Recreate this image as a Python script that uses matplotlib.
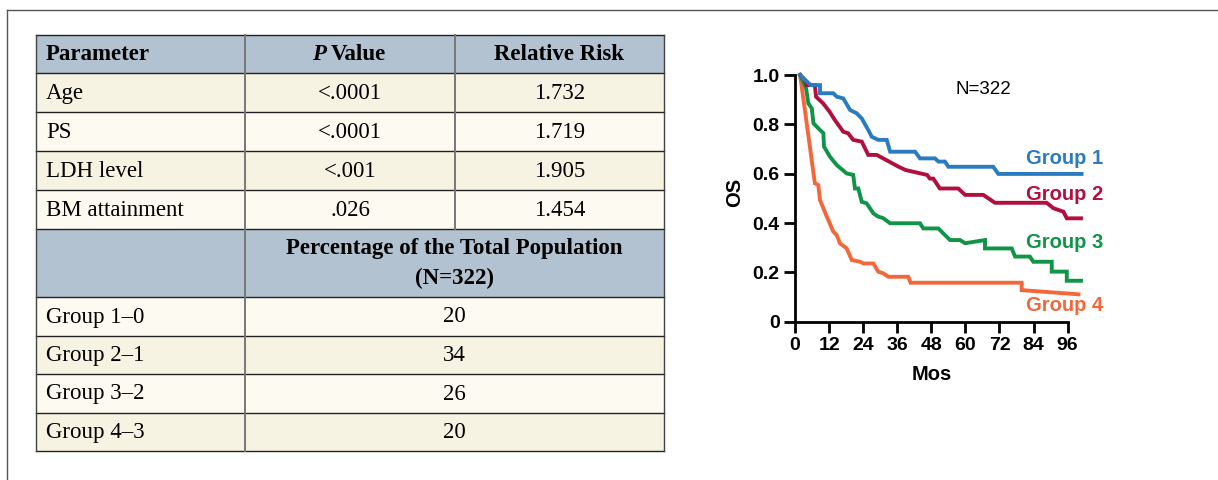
import matplotlib
matplotlib.use("Agg")
import matplotlib.pyplot as plt
from matplotlib.patches import Rectangle
from matplotlib.transforms import blended_transform_factory

# ---------------- Data ----------------
params = ["Age", "PS", "LDH level", "BM attainment"]
p_values = ["<.0001", "<.0001", "<.001", ".026"]
relative_risk = ["1.732", "1.719", "1.905", "1.454"]
group_rows = ["Group 1\u20130", "Group 2\u20131", "Group 3\u20132", "Group 4\u20133"]
percentages = ["20", "34", "26", "20"]

g1_months = [1.8, 4.5, 5.5, 8.8, 8.8, 13.5, 14.7, 17.0, 19.4, 21.7, 23.5, 25.8, 27.0, 29.3, 32.3, 33.5,
             42.3, 44.0, 49.3, 50.5, 52.8, 54.0, 69.8, 71.6, 100.9]
g1_os = [1.0, 0.97, 0.959, 0.959, 0.926, 0.926, 0.912, 0.905, 0.858, 0.845, 0.824, 0.777, 0.75, 0.737, 0.737,
         0.689, 0.689, 0.662, 0.662, 0.649, 0.649, 0.628, 0.628, 0.599, 0.599]

g2_months = [1.8, 3.5, 4.1, 7.0, 7.4, 9.9, 12.2, 14.0, 17.0, 18.7, 20.5, 23.5, 25.8, 28.8, 36.5, 38.9,
             46.5, 47.5, 48.7, 51.0, 57.5, 59.9, 66.3, 70.4, 88.6, 91.0, 94.5, 95.7, 100.7]
g2_os = [1.0, 0.98, 0.959, 0.959, 0.912, 0.885, 0.851, 0.818, 0.77, 0.764, 0.737, 0.73, 0.676, 0.676, 0.628,
         0.615, 0.595, 0.58, 0.58, 0.54, 0.54, 0.514, 0.514, 0.482, 0.482, 0.46, 0.446, 0.419, 0.419]

g3_months = [1.8, 3.9, 4.7, 5.9, 6.5, 8.2, 10.0, 10.2, 12.3, 14.7, 18.2, 20.5, 21.1, 22.3, 23.5, 25.2,
             27.6, 29.3, 31.0, 33.5, 44.0, 45.2, 50.5, 52.2, 54.6, 58.1, 59.9, 66.9, 66.9, 76.3, 77.5,
             82.7, 83.9, 90.4, 90.4, 95.7, 95.7, 100.7]
g3_os = [1.0, 0.946, 0.885, 0.865, 0.804, 0.784, 0.764, 0.71, 0.669, 0.635, 0.601, 0.595, 0.54, 0.54, 0.486,
         0.48, 0.439, 0.426, 0.42, 0.399, 0.399, 0.378, 0.378, 0.358, 0.331, 0.331, 0.318, 0.331, 0.297,
         0.297, 0.264, 0.264, 0.243, 0.243, 0.203, 0.203, 0.166, 0.166]

g4_months = [1.8, 7.0, 8.2, 8.8, 11.2, 13.5, 14.7, 15.8, 18.2, 20.0, 22.9, 24.1, 27.6, 29.3, 31.1, 32.9,
             39.9, 40.7, 79.8, 79.8, 99.8]
g4_os = [1.0, 0.561, 0.554, 0.493, 0.426, 0.365, 0.351, 0.318, 0.297, 0.25, 0.243, 0.236, 0.236, 0.203,
         0.196, 0.182, 0.182, 0.158, 0.158, 0.128, 0.111]

group_names = ["Group 1", "Group 2", "Group 3", "Group 4"]
group_colors = ["#2b7bc0", "#b1103e", "#109447", "#f4673a"]
label_y = [0.663, 0.516, 0.321, 0.066]
x_ticks = [0, 12, 24, 36, 48, 60, 72, 84, 96]
y_ticks = [0, 0.2, 0.4, 0.6, 0.8, 1.0]
y_ticklabels = ["0", "0.2", "0.4", "0.6", "0.8", "1.0"]

# ---------------- Figure ----------------
W, H = 1218, 480
fig = plt.figure(figsize=(W / 100, H / 100), dpi=100)
fig.patch.set_facecolor("white")

bg = fig.add_axes([0, 0, 1, 1])
bg.set_xlim(0, W)
bg.set_ylim(H, 0)
bg.axis("off")

# outer frame
bg.plot([7, 7], [480, 9.5], color="#555555", lw=1.0)
bg.plot([7, 1218], [9.5, 9.5], color="#555555", lw=1.0)

header_c = "#b3c2d0"
cream = "#f7f3e2"
light = "#fdfaf2"
serif = "Liberation Serif"
fs = 16.5

x0, xc1, xc2, x1 = 36, 245, 455, 664
row_edges = [34.5, 72.7, 111.7, 150.7, 189.5, 228.5, 296.5, 335.5, 373.5, 412.5, 451]

# header
bg.add_patch(Rectangle((x0, row_edges[0]), x1 - x0, row_edges[1] - row_edges[0], fc=header_c, ec="none"))
ym = (row_edges[0] + row_edges[1]) / 2 + 1
bg.text(x0 + 10, ym, "Parameter", fontfamily=serif, fontweight="bold", fontsize=fs, va="center", ha="left")
bg.text((xc1 + xc2) / 2 - 24, ym, "P", fontfamily=serif, fontweight="bold",
        fontstyle="italic", fontsize=fs, va="center", ha="right")
bg.text((xc1 + xc2) / 2 - 19, ym, "Value", fontfamily=serif, fontweight="bold", fontsize=fs,
        va="center", ha="left")
bg.text((xc2 + x1) / 2, ym, "Relative Risk", fontfamily=serif, fontweight="bold", fontsize=fs,
        va="center", ha="center")

for i, (p, pv, rr) in enumerate(zip(params, p_values, relative_risk)):
    top, bot = row_edges[1 + i], row_edges[2 + i]
    bg.add_patch(Rectangle((x0, top), x1 - x0, bot - top, fc=cream if i % 2 == 0 else light, ec="none"))
    ym = (top + bot) / 2 + 1
    bg.text(x0 + 10, ym, p, fontfamily=serif, fontsize=fs, va="center", ha="left")
    bg.text((xc1 + xc2) / 2, ym, pv, fontfamily=serif, fontsize=fs, va="center", ha="center")
    bg.text((xc2 + x1) / 2, ym, rr, fontfamily=serif, fontsize=fs, va="center", ha="center")

# second header
top, bot = row_edges[5], row_edges[6]
bg.add_patch(Rectangle((x0, top), x1 - x0, bot - top, fc=header_c, ec="none"))
bg.text((xc1 + x1) / 2, (top + bot) / 2 + 1, "Percentage of the Total Population\n(N=322)", fontfamily=serif,
        fontweight="bold", fontsize=fs, va="center", ha="center", linespacing=1.5)

for i, (g, pc) in enumerate(zip(group_rows, percentages)):
    top, bot = row_edges[6 + i], row_edges[7 + i]
    bg.add_patch(Rectangle((x0, top), x1 - x0, bot - top, fc=light if i % 2 == 0 else cream, ec="none"))
    ym = (top + bot) / 2 + 1
    bg.text(x0 + 10, ym, g, fontfamily=serif, fontsize=fs, va="center", ha="left")
    bg.text((xc1 + x1) / 2, ym, pc, fontfamily=serif, fontsize=fs, va="center", ha="center")

# grid lines
for k, y in enumerate(row_edges):
    bg.plot([x0, x1], [y, y], color="#222222", lw=1.0)
bg.plot([x0, x0], [row_edges[0], row_edges[-1]], color="#444444", lw=1.0)
bg.plot([x1, x1], [row_edges[0], row_edges[-1]], color="#444444", lw=1.0)
bg.plot([xc1, xc1], [row_edges[0], row_edges[-1]], color="#777777", lw=1.4)
bg.plot([xc2, xc2], [row_edges[0], row_edges[5]], color="#777777", lw=1.4)

# ---------------- KM chart ----------------
px_per_mo = 2.84
px_per_os = 246.7
ax_left_px, ax_bottom_px = 795, 321.7
xmax, ymax = 103, 1.05
ax = fig.add_axes([ax_left_px / W, (H - ax_bottom_px) / H,
                   xmax * px_per_mo / W, ymax * px_per_os / H])
ax.set_xlim(0, xmax)
ax.set_ylim(0, ymax)
ax.patch.set_alpha(0)

series = [(g1_months, g1_os), (g2_months, g2_os), (g3_months, g3_os), (g4_months, g4_os)]
for (mx, oy), c in reversed(list(zip(series, group_colors))):
    ax.plot(mx, oy, color=c, lw=2.8, solid_joinstyle="miter", clip_on=False)

for name, c, ly in zip(group_names, group_colors, label_y):
    ax.text(81.2, ly, name, color=c, fontfamily="Liberation Sans", fontweight="bold", fontsize=14.5,
            va="center", ha="left", clip_on=False)

ax.text(66.5, 0.94, "N=322", fontfamily="Liberation Sans", fontsize=13.5, va="center", ha="center")

for s in ["top", "right"]:
    ax.spines[s].set_visible(False)
ax.spines["left"].set_bounds(0, 1.0)
ax.spines["bottom"].set_bounds(0, 96)
ax.spines["left"].set_linewidth(2)
ax.spines["bottom"].set_linewidth(2)
ax.set_xticks(x_ticks)
ax.set_xticklabels([str(t) for t in x_ticks])
ax.set_yticks(y_ticks)
ax.set_yticklabels(y_ticklabels)
ax.tick_params(direction="out", length=8, width=2, labelsize=14, pad=3)
for lab in ax.get_xticklabels() + ax.get_yticklabels():
    lab.set_fontfamily("Liberation Sans")
    lab.set_fontweight("bold")

trans = blended_transform_factory(ax.transData, ax.transAxes)
ax.text(48, -0.205, "Mos", transform=trans, fontfamily="Liberation Sans", fontweight="bold", fontsize=14.5,
        ha="center", va="center")
ax.set_ylabel("OS", fontfamily="Liberation Sans", fontweight="bold", fontsize=14.5, labelpad=6)

fig.savefig("out.png", dpi=100)
